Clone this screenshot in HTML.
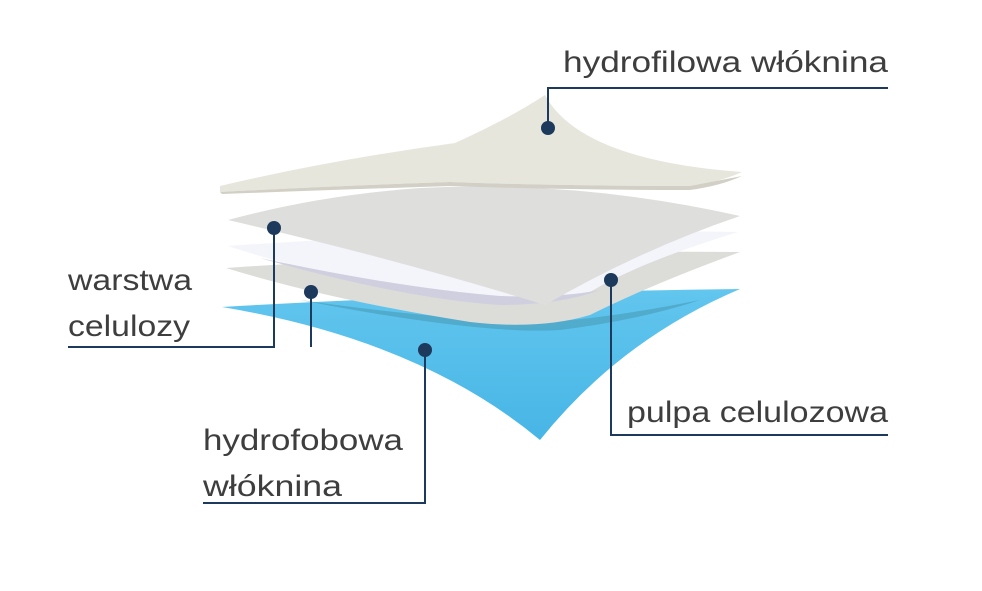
<!DOCTYPE html>
<html><head><meta charset="utf-8"><style>
html,body{margin:0;padding:0;background:#fff;}
svg{display:block;}
text{font-family:"Liberation Sans",sans-serif;font-size:30px;fill:#3e3e3e;}
</style></head><body>
<svg width="982" height="591" viewBox="0 0 982 591" xmlns="http://www.w3.org/2000/svg">
<defs>
<linearGradient id="bl" x1="0" y1="0" x2="0" y2="1"><stop offset="0" stop-color="#62c6ee"/><stop offset="1" stop-color="#47b5e6"/></linearGradient>
</defs>
<path d="M222,307 Q480,292 740,289 Q620,340 540,440 Q420,340 222,307 Z" fill="url(#bl)"/>
<path d="M300,300 Q480,335 560,330 Q640,320 700,300 Q600,320 540,322 Q440,320 300,300Z" fill="#4a9bb8" opacity="0.6"/>
<path d="M226,268 Q480,250 740,252 Q650,285 590,315 Q540,330 470,322 Q330,300 226,268 Z" fill="#dcdcd8"/>
<path d="M228,246 Q480,228 738,232 Q640,262 590,292 Q540,305 470,298 Q330,280 228,246 Z" fill="#f4f4fb"/>
<path d="M260,258 Q400,288 500,296 Q560,298 600,290 Q560,305 500,305 Q400,298 260,258Z" fill="#cfcfdf"/>
<path d="M228,220 Q320,195 420,188 Q580,180 740,216 Q640,250 545,305 Q400,260 228,220 Z" fill="#dededc"/>
<path d="M220,186 Q330,160 455,143 Q510,118 545,95 Q580,160 742,172 Q720,182 690,186 Q560,186 450,182 Q330,186 220,192 Z" fill="#e7e6dd"/>
<path d="M220,192 Q330,186 450,182 Q560,186 690,186 L742,176 Q720,186 690,190 Q560,190 450,186 Q330,190 222,194Z" fill="#d2d0c6"/>
<g stroke="#1d3a5c" stroke-width="2" fill="none">
<polyline points="548,128 548,88 888,88"/>
<polyline points="274,228 274,347 68,347"/>
<polyline points="311,292 311,347"/>
<polyline points="425,350 425,503 203,503"/>
<polyline points="611,280 611,435 888,435"/>
</g>
<g fill="#1d3a5c">
<circle cx="548" cy="128" r="7"/><circle cx="274" cy="228" r="7"/><circle cx="311" cy="292" r="7"/><circle cx="425" cy="350" r="7"/><circle cx="611" cy="280" r="7"/>
</g>
<text x="563" y="72" textLength="325" lengthAdjust="spacingAndGlyphs">hydrofilowa włóknina</text>
<text x="68" y="290" textLength="124" lengthAdjust="spacingAndGlyphs">warstwa</text>
<text x="68" y="336" textLength="122" lengthAdjust="spacingAndGlyphs">celulozy</text>
<text x="627" y="422" textLength="261" lengthAdjust="spacingAndGlyphs">pulpa celulozowa</text>
<text x="203" y="450" textLength="200" lengthAdjust="spacingAndGlyphs">hydrofobowa</text>
<text x="203" y="496" textLength="139" lengthAdjust="spacingAndGlyphs">włóknina</text>
</svg>
</body></html>
